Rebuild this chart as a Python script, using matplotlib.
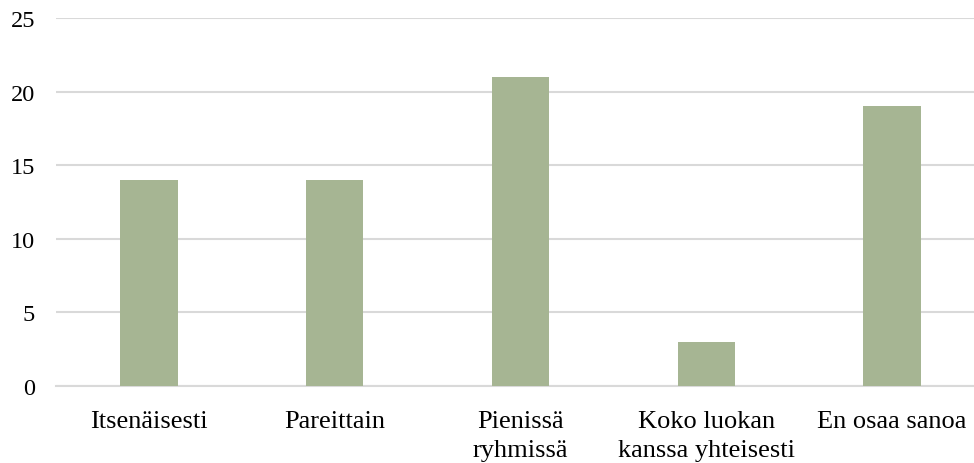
"""Bar chart of preferred ways of working."""

import matplotlib.pyplot as plt
import numpy as np

categories = ['Itsenäisesti', 'Pareittain', 'Pienissä\nryhmissä',
              'Koko luokan\nkanssa yhteisesti', 'En osaa sanoa']
counts = [14, 14, 21, 3, 19]
y_ticks = [0, 5, 10, 15, 20, 25]

BAR_COLOR = '#a6b593'
GRID_COLOR = '#d9d9d9'


def main():
    plt.rcParams['font.family'] = ['Liberation Serif', 'DejaVu Serif']

    fig = plt.figure(figsize=(9.74, 4.64), dpi=100)
    # axes run a little past the right edge, like the original export
    axes = fig.add_axes([56 / 974, (464 - 387) / 464,
                         929 / 974, (387 - 19) / 464])

    x = np.arange(len(categories))
    axes.bar(x, counts, width=0.31, color=BAR_COLOR, zorder=3)

    axes.set_xlim(-0.5, len(categories) - 0.5)
    axes.set_ylim(0, 25)
    axes.set_yticks(y_ticks)
    axes.set_xticks(x)
    axes.set_xticklabels(categories, fontsize=19, linespacing=1.45)
    axes.tick_params(axis='x', length=0, pad=17)
    axes.tick_params(axis='y', length=0, pad=15, labelsize=17.5)
    axes.yaxis.grid(True, color=GRID_COLOR, linewidth=1.5, zorder=0)

    for side in ('top', 'right', 'left'):
        axes.spines[side].set_visible(False)
    axes.spines['bottom'].set_color(GRID_COLOR)
    axes.spines['bottom'].set_linewidth(1.5)

    fig.savefig('out.png', dpi=100)
    plt.close(fig)


if __name__ == '__main__':
    main()
